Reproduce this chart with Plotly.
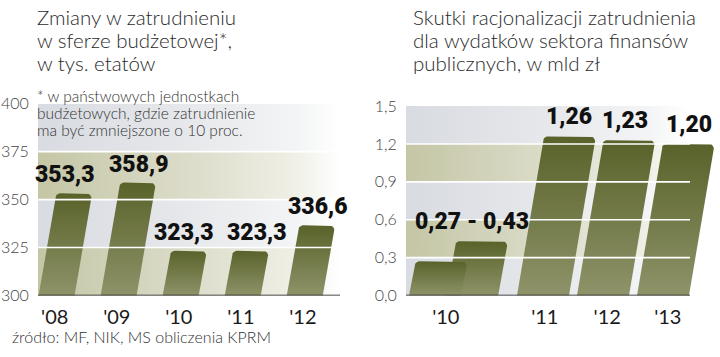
import math
import plotly.graph_objects as go

# ---------------- data ----------------
left_categories = ["'08", "'09", "'10", "'11", "'12"]
left_values = [353.3, 358.9, 323.3, 323.3, 336.6]
left_value_labels = ["353,3", "358,9", "323,3", "323,3", "336,6"]
left_yticks = [300, 325, 350, 375, 400]
left_yticklabels = ["300", "325", "350", "375", "400"]

right_categories = ["'10", "'11", "'12", "'13"]
right_2010_range = [0.27, 0.43]
right_values = [1.26, 1.23, 1.20]          # '11, '12, '13
right_value_labels = ["0,27 - 0,43", "1,26", "1,23", "1,20"]
right_yticks = [0.0, 0.3, 0.6, 0.9, 1.2, 1.5]
right_yticklabels = ["0,0", "0,3", "0,6", "0,9", "1,2", "1,5"]

left_title = ["Zmiany w zatrudnieniu", "w sferze budżetowej*,", "w tys. etatów"]
left_note = ["* w państwowych jednostkach", "budżetowych, gdzie zatrudnienie",
             "ma być zmniejszone o 10 proc."]
right_title = ["Skutki racjonalizacji zatrudnienia", "dla wydatków sektora finansów",
               "publicznych, w mld zł"]
source_text = "źródło: MF, NIK, MS obliczenia KPRM"

# ---------------- layout constants ----------------
W, H = 720, 357
L_XPX = (38, 342)
L_XRANGE = (-0.3, 4.6)
L_YPX = (99, 301.5)        # top (400), bottom (300)
L_YRANGE = (300, 400)
R_XPX = (406, 716)
R_XRANGE = (-0.28333, 4.88333)
R_YPX = (101.5, 301.5)
R_YRANGE = (0, 1.5)

L_PPX = (L_XPX[1] - L_XPX[0]) / (L_XRANGE[1] - L_XRANGE[0])
L_PPY = (L_YPX[1] - L_YPX[0]) / (L_YRANGE[1] - L_YRANGE[0])
R_PPX = (R_XPX[1] - R_XPX[0]) / (R_XRANGE[1] - R_XRANGE[0])
R_PPY = (R_YPX[1] - R_YPX[0]) / (R_YRANGE[1] - R_YRANGE[0])

def l_xdata(px):
    return L_XRANGE[0] + (px - L_XPX[0]) / L_PPX

def r_xdata(px):
    return R_XRANGE[0] + (px - R_XPX[0]) / R_PPX

SLANT = 0.155
BAR_TOP = "#59622a"
BAR_BOT = "#8e9369"
GREY_SCALE = [[0, "#d8dbe1"], [0.5, "#e6e8eb"], [0.85, "#f3f4f5"], [1, "#ffffff"]]
KHAKI_SCALE = [[0, "#c4c6a5"], [0.5, "#dcdcca"], [0.85, "#efefe6"], [1, "#ffffff"]]

# hand-placed label nudges (px) relative to the bar's top centre, as in the original
LEFT_LABEL_DX = [-8, 2, -4, 7, 2]
RIGHT_LABEL_DX = [0, -3, 1]

VALUE_FONT = dict(family="Roboto, Liberation Sans, Arial", size=23, color="#111111",
                  weight=900)
TEXT_FONT = "Lato, Open Sans, Liberation Sans, sans-serif"

fig = go.Figure()


def bar_points(xc, v, base, w_px, ppx, ppy, r=5, n=6):
    h = (v - base) * ppy
    s = SLANT * h
    pts = [(-w_px / 2, 0)]
    cxl, cyl = -w_px / 2 + s + r, h - r
    for k in range(n + 1):
        a = math.pi - k * (math.pi / 2) / n
        pts.append((cxl + r * math.cos(a), cyl + r * math.sin(a)))
    cxr, cyr = w_px / 2 + s - r, h - r
    for k in range(n + 1):
        a = math.pi / 2 - k * (math.pi / 2) / n
        pts.append((cxr + r * math.cos(a), cyr + r * math.sin(a)))
    pts.append((w_px / 2, 0))
    pts.append((-w_px / 2, 0))
    xs = [xc + px / ppx for px, _ in pts]
    ys = [base + py / ppy for _, py in pts]
    return xs, ys, xc + s / ppx, xc + (-w_px / 2 + s) / ppx


def add_band(x0, x1, lo, hi, scale, xa, ya):
    fig.add_trace(go.Scatter(
        x=[x0, x1, x1, x0, x0], y=[lo, lo, hi, hi, lo], mode="lines",
        fill="toself", line=dict(width=0),
        fillgradient=dict(type="horizontal", colorscale=scale, start=x0, stop=x1),
        hoverinfo="skip", showlegend=False, xaxis=xa, yaxis=ya))


def add_bar(xs, ys, xa, ya):
    fig.add_trace(go.Scatter(
        x=xs, y=ys, mode="lines", fill="toself", line=dict(width=0),
        fillgradient=dict(type="vertical", colorscale=[[0, BAR_BOT], [1, BAR_TOP]]),
        hoverinfo="skip", showlegend=False, xaxis=xa, yaxis=ya))


# ---------------- left panel ----------------
lx0, lx1 = L_XRANGE[0], l_xdata(340)
for k in range(len(left_yticks) - 1):
    add_band(lx0, lx1, left_yticks[k], left_yticks[k + 1],
             KHAKI_SCALE if k % 2 == 0 else GREY_SCALE, "x", "y")

left_pos = list(range(len(left_values)))
annotations = []
for i, v in enumerate(left_values):
    xs, ys, xtop, _ = bar_points(left_pos[i], v, L_YRANGE[0], 36, L_PPX, L_PPY)
    add_bar(xs, ys, "x", "y")
    annotations.append(dict(x=xtop, y=v, xref="x", yref="y", text=left_value_labels[i],
                            showarrow=False, xanchor="center", yanchor="bottom", yshift=3,
                            xshift=LEFT_LABEL_DX[i], font=VALUE_FONT))

# ---------------- right panel ----------------
rx0, rx1 = R_XRANGE[0], r_xdata(690)
for k in range(len(right_yticks) - 1):
    add_band(rx0, rx1, right_yticks[k], right_yticks[k + 1],
             GREY_SCALE if k % 2 == 0 else KHAKI_SCALE, "x2", "y2")

r_2010_pos = [0.2, 0.82]
r_pos = [2, 3, 4]
# high 2010 bar behind, low in front
xs, ys, _, _ = bar_points(r_2010_pos[1], right_2010_range[1], 0, 52, R_PPX, R_PPY)
add_bar(xs, ys, "x2", "y2")
xs, ys, _, xleft_low = bar_points(r_2010_pos[0], right_2010_range[0], 0, 52, R_PPX, R_PPY)
add_bar(xs, ys, "x2", "y2")
annotations.append(dict(x=xleft_low, y=right_2010_range[1], xref="x2", yref="y2",
                        text=right_value_labels[0], showarrow=False, xanchor="left",
                        yanchor="bottom", yshift=4, xshift=-2, font=VALUE_FONT))
for i, v in enumerate(right_values):
    xs, ys, xtop, _ = bar_points(r_pos[i], v, 0, 52, R_PPX, R_PPY)
    add_bar(xs, ys, "x2", "y2")
    annotations.append(dict(x=xtop, y=v, xref="x2", yref="y2", text=right_value_labels[i + 1],
                            showarrow=False, xanchor="center", yanchor="bottom", yshift=4,
                            xshift=RIGHT_LABEL_DX[i], font=VALUE_FONT))

# ---------------- gridlines & baselines (above bars) ----------------
shapes = []
for t in left_yticks[1:-1]:
    shapes.append(dict(type="line", xref="x", yref="y", x0=lx0, x1=lx1, y0=t, y1=t,
                       line=dict(color="white", width=1.6), layer="above"))
shapes.append(dict(type="line", xref="x", yref="y", x0=lx0, x1=lx1, y0=L_YRANGE[0],
                   y1=L_YRANGE[0], line=dict(color="#111111", width=1.6), layer="above"))
for t in right_yticks[1:-1]:
    shapes.append(dict(type="line", xref="x2", yref="y2", x0=rx0, x1=rx1, y0=t, y1=t,
                       line=dict(color="white", width=1.6), layer="above"))
shapes.append(dict(type="line", xref="x2", yref="y2", x0=rx0, x1=rx1, y0=0, y1=0,
                   line=dict(color="#111111", width=1.6), layer="above"))

# ---------------- texts ----------------
def text_line(txt, x_px, baseline_px, size, color="#333333", weight="normal"):
    return dict(x=x_px / W, y=1 - (baseline_px - 0.36 * size) / H, xref="paper", yref="paper",
                text=txt, showarrow=False, xanchor="left", yanchor="middle", borderpad=0,
                font=dict(family=TEXT_FONT, size=size, color=color, weight=weight))

for j, t in enumerate(left_title):
    annotations.append(text_line(t, 36, 15 + 24 * j, 20.5, "#2a2a2a", 300))
for j, t in enumerate(right_title):
    annotations.append(text_line(t, 412, 15 + 24 * j, 20.5, "#2a2a2a", 300))
for j, t in enumerate(left_note):
    annotations.append(text_line(t, 36, 96 + 18 * j, 15.5, "#333333", 300))
annotations.append(text_line(source_text, 11, 351, 16, "#333333", 300))

axis_common = dict(showgrid=False, zeroline=False, showline=False, fixedrange=True)
fig.update_layout(
    width=W, height=H, margin=dict(l=0, r=0, t=0, b=0),
    paper_bgcolor="white", plot_bgcolor="rgba(0,0,0,0)", showlegend=False,
    xaxis=dict(domain=[L_XPX[0] / W, L_XPX[1] / W], range=list(L_XRANGE), anchor="y",
               tickvals=[p - 0.03 for p in left_pos], ticktext=left_categories,
               ticks="outside", ticklen=4, tickcolor="rgba(0,0,0,0)",
               tickfont=dict(family=TEXT_FONT, size=20, color="#1a1a1a"), **axis_common),
    yaxis=dict(domain=[1 - L_YPX[1] / H, 1 - L_YPX[0] / H], range=list(L_YRANGE), anchor="x",
               tickvals=left_yticks, ticktext=left_yticklabels,
               ticks="outside", ticklen=5, tickcolor="rgba(0,0,0,0)",
               tickfont=dict(family=TEXT_FONT, size=16, color="#444444", weight=300),
               **axis_common),
    xaxis2=dict(domain=[R_XPX[0] / W, R_XPX[1] / W], range=list(R_XRANGE), anchor="y2",
                tickvals=[0.38, 2.03, 3.07, 4.08], ticktext=right_categories,
                ticks="outside", ticklen=4, tickcolor="rgba(0,0,0,0)",
                tickfont=dict(family=TEXT_FONT, size=20, color="#1a1a1a"), **axis_common),
    yaxis2=dict(domain=[1 - R_YPX[1] / H, 1 - R_YPX[0] / H], range=list(R_YRANGE), anchor="x2",
                tickvals=right_yticks, ticktext=right_yticklabels,
                ticks="outside", ticklen=5, tickcolor="rgba(0,0,0,0)",
                tickfont=dict(family=TEXT_FONT, size=16, color="#444444", weight=300),
                **axis_common),
    annotations=annotations, shapes=shapes,
)

fig.write_html("out.html", config={"displayModeBar": False, "staticPlot": True},
               post_script="document.body.style.margin='0';document.body.style.padding='0';"
                           "document.documentElement.style.overflow='hidden';")
